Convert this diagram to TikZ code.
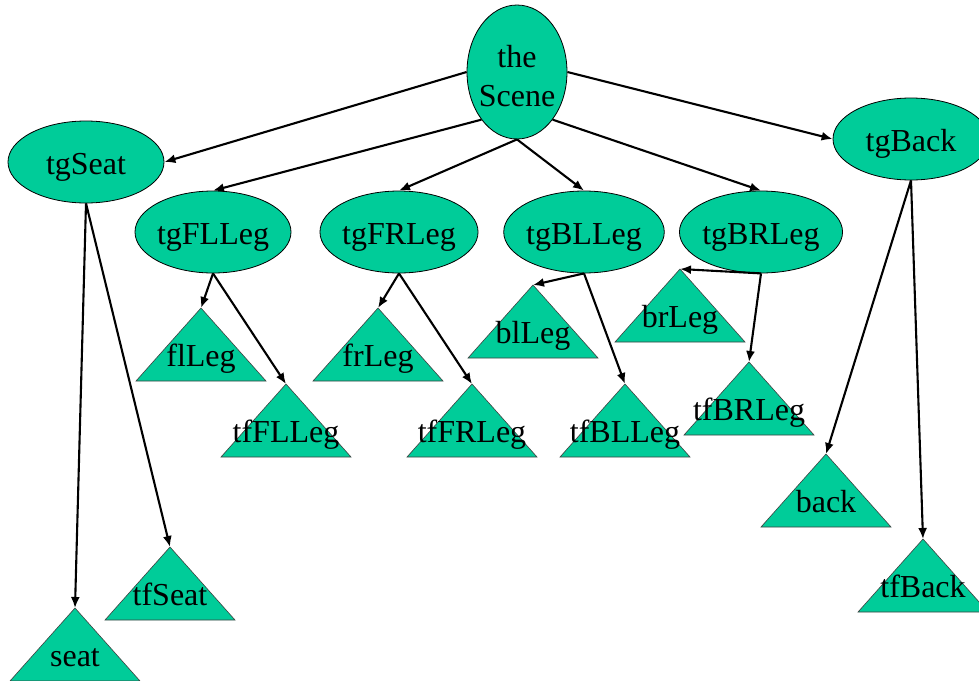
\documentclass[tikz,border=0pt]{standalone}
\usepackage{fontspec}
\setmainfont{Liberation Serif}
\usetikzlibrary{arrows.meta,shapes.geometric}
\definecolor{sgreen}{RGB}{0,204,153}
\tikzset{
  grp/.style={ellipse,draw,line width=0.8pt,fill=sgreen,inner sep=0pt,inner xsep=-1pt,
    minimum width=156pt,minimum height=82pt,text height=24pt,text depth=0pt},
  rootgrp/.style={ellipse,draw,line width=0.8pt,fill=sgreen,inner sep=0pt,inner xsep=-3pt,
    minimum width=100pt,minimum height=134pt,align=center},
  geo/.style={fill=sgreen,draw=black!75,line width=0.6pt},
  geolbl/.style={anchor=base,inner sep=0pt},
  edge/.style={-{Latex[length=11pt,width=9pt]},line width=2.1pt},
  every node/.style={font=\fontsize{32}{39}\selectfont}
}
\begin{document}
\begin{tikzpicture}[x=1pt,y=-1pt]
\useasboundingbox (0,0) rectangle (979,680);
\clip (0,0) rectangle (979,680);
% groups
\node[rootgrp] (scene) at (517,72) {\rule{0pt}{30pt}the\\Scene};
\node[grp] (tgSeat) at (86,162) {tgSeat};
\node[grp] (tgFLLeg) at (213,232) {tgFLLeg};
\node[grp] (tgFRLeg) at (399,232) {tgFRLeg};
\node[grp] (tgBLLeg) at (584,232) {tgBLLeg};
\node[grp] (tgBRLeg) at (761,232) {tgBRLeg};
\node[grp] (tgBack) at (911,139) {tgBack};
% leaves (apex given)
\foreach \n/\x/\y in {seat/75/608, tfSeat/170/547, flLeg/201/308, tfFLLeg/286/384,
    frLeg/378/308, tfFRLeg/472/384, blLeg/533/285, tfBLLeg/625/384,
    brLeg/680/269, tfBRLeg/749/362, back/826/454, tfBack/923/539} {
  \draw[geo] (\x,\y) coordinate (\n) -- ++(-65,73) -- ++(130,0) -- cycle;
  \node[geolbl] (\n-lbl) at (\x,\y+58) {\n};
}
% edges
\foreach \a/\b in {scene.west/tgSeat.east, scene.south west/tgFLLeg.north,
    scene.south/tgFRLeg.north, scene.south/tgBLLeg.north,
    scene.south east/tgBRLeg.north, scene.east/tgBack.west} {
  \draw[edge] (\a) -- (\b);
}
\foreach \a/\b in {tgSeat/seat, tgSeat/tfSeat, tgFLLeg/flLeg, tgFLLeg/tfFLLeg,
    tgFRLeg/frLeg, tgFRLeg/tfFRLeg, tgBLLeg/blLeg, tgBLLeg/tfBLLeg,
    tgBRLeg/brLeg, tgBRLeg/tfBRLeg, tgBack/back, tgBack/tfBack} {
  \draw[edge] (\a.south) -- (\b);
}
\end{tikzpicture}
\end{document}
